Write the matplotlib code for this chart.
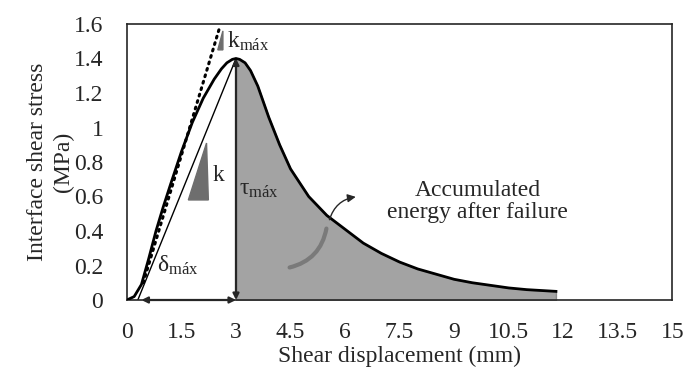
import numpy as np
import matplotlib
matplotlib.use('Agg')
import matplotlib.pyplot as plt
from matplotlib.patches import Polygon, FancyArrowPatch

plt.rcParams['font.family'] = ['Liberation Serif', 'DejaVu Serif']
plt.rcParams['mathtext.fontset'] = 'custom'
plt.rcParams['mathtext.rm'] = 'Liberation Serif'
plt.rcParams['mathtext.it'] = 'Liberation Serif'

# shear stress - displacement curve
disp = [0, 0.2, 0.4, 0.6, 0.8, 1.0, 1.2, 1.5, 1.8, 2.1, 2.4, 2.6, 2.75, 2.9, 3.0,
        3.1, 3.25, 3.4, 3.6, 3.9, 4.2, 4.5, 5.0, 5.5, 6.0, 6.5, 7.0, 7.5, 8.0, 8.5,
        9.0, 9.5, 10.0, 10.5, 11.0, 11.8]
stress = [0, 0.02, 0.09, 0.24, 0.40, 0.54, 0.67, 0.86, 1.03, 1.17, 1.28, 1.34, 1.375, 1.395, 1.40,
          1.395, 1.375, 1.33, 1.24, 1.06, 0.90, 0.76, 0.60, 0.49, 0.41, 0.33, 0.27, 0.22, 0.18, 0.15,
          0.12, 0.10, 0.085, 0.07, 0.06, 0.05]

# tangent (k max) and secant (k) lines
tangent_x = [0.45, 2.55]
tangent_y = [0.10, 1.58]
secant_x = [0.3, 3.0]
secant_y = [0.0, 1.40]

peak_x, peak_y = 3.0, 1.40
delta_start = 0.4

x_ticks = [0, 1.5, 3, 4.5, 6, 7.5, 9, 10.5, 12, 13.5, 15]
x_labels = ['0', '1.5', '3', '4.5', '6', '7.5', '9', '10.5', '12', '13.5', '15']
y_ticks = [0, 0.2, 0.4, 0.6, 0.8, 1.0, 1.2, 1.4, 1.6]
y_labels = ['0', '0.2', '0.4', '0.6', '0.8', '1', '1.2', '1.4', '1.6']

txt = '#262626'
fig = plt.figure(figsize=(6.86, 3.75), dpi=100)
ax = fig.add_axes([0.185, 0.2, 0.795, 0.736])

d = np.array(disp)
s = np.array(stress)
post = d >= peak_x
ax.fill_between(d[post], 0, s[post], color='#a3a3a3', edgecolor='#8c8c8c', lw=1, zorder=1)
ax.plot(secant_x, secant_y, color='black', lw=1.0, zorder=2)
ax.plot(tangent_x, tangent_y, color='black', lw=2.2, ls=(0, (0.6, 1.6)),
        dash_capstyle='round', zorder=2)
ax.plot(d, s, color='black', lw=2.0, zorder=3, solid_joinstyle='round')

# double arrows
ax.annotate('', xy=(peak_x, 0.0), xytext=(peak_x, peak_y),
            arrowprops=dict(arrowstyle='<|-|>', color='#262626', lw=1.6,
                            mutation_scale=9, shrinkA=0, shrinkB=0), zorder=4)
ax.annotate('', xy=(delta_start, 0.0), xytext=(peak_x, 0.0),
            arrowprops=dict(arrowstyle='<|-|>', color='#262626', lw=1.6,
                            mutation_scale=9, shrinkA=0, shrinkB=0), zorder=4)

# slope triangles
ax.add_patch(Polygon([[2.19, 0.91], [1.69, 0.58], [2.24, 0.58]], closed=True,
                     color='#6e6e6e', zorder=3))
ax.add_patch(Polygon([[2.64, 1.56], [2.50, 1.45], [2.64, 1.45]], closed=True,
                     color='#6e6e6e', zorder=3))

fs = 17
ax.text(2.36, 0.72, 'k', fontsize=fs, color=txt, va='center', ha='left')
ax.text(2.74, 1.50, 'k$_{\\mathrm{máx}}$', fontsize=fs, color=txt, va='center', ha='left')
ax.text(3.08, 0.64, 'τ$_{\\mathrm{máx}}$', fontsize=fs, color=txt, va='center', ha='left')
ax.text(1.40, 0.20, 'δ$_{\\mathrm{máx}}$', fontsize=fs, color=txt, va='center', ha='center')
ax.text(9.65, 0.57, 'Accumulated\nenergy after failure', fontsize=fs, color=txt,
        va='center', ha='center', linespacing=1.05)

# curved pointer arrow
ax.add_patch(FancyArrowPatch((4.40, 0.185), (5.50, 0.43), connectionstyle='arc3,rad=0.35',
                             arrowstyle='-', color='#7a7a7a', lw=3, zorder=4))
ax.add_patch(FancyArrowPatch((5.55, 0.45), (6.37, 0.60), connectionstyle='arc3,rad=-0.35',
                             arrowstyle='-|>', color='#262626', lw=1.0,
                             mutation_scale=12, zorder=4))

ax.set_xlim(0, 15)
ax.set_ylim(0, 1.6)
ax.set_xticks(x_ticks)
ax.set_xticklabels(x_labels)
ax.set_yticks(y_ticks)
ax.set_yticklabels(y_labels)
ax.tick_params(length=0, labelsize=fs, colors=txt)
ax.tick_params(axis='x', pad=16)
ax.tick_params(axis='y', pad=17)
for sp in ax.spines.values():
    sp.set_color('#262626')
    sp.set_linewidth(1.2)

ax.set_xlabel('Shear displacement (mm)', fontsize=fs, color=txt, labelpad=2)
ax.set_ylabel('Interface shear stress\n(MPa)', fontsize=fs, color=txt, labelpad=0,
              linespacing=1.3)

fig.savefig('out.png', dpi=100)
